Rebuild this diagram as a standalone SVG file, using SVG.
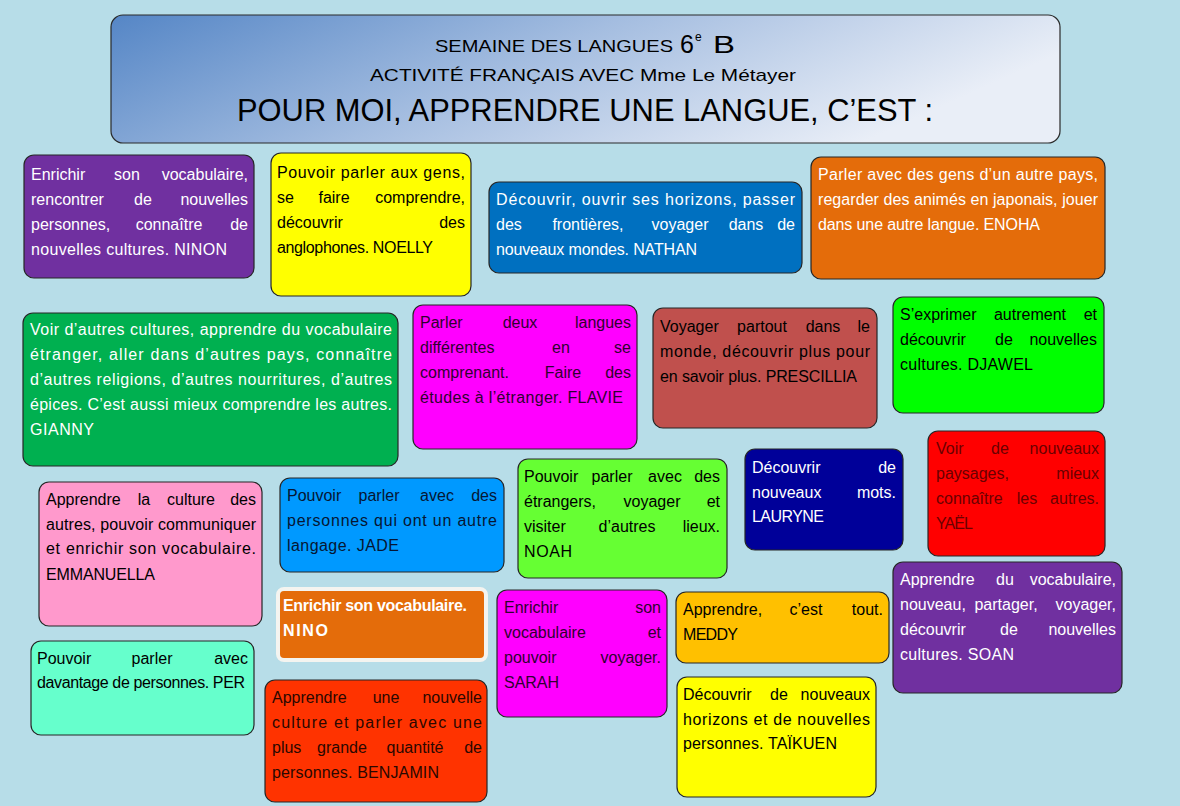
<svg xmlns="http://www.w3.org/2000/svg" width="1180" height="806" viewBox="0 0 1180 806">
<defs>
<linearGradient id="hg" x1="0" y1="0" x2="1" y2="0.3">
<stop offset="0" stop-color="#5586c6"/>
<stop offset="0.5" stop-color="#a4bde0"/>
<stop offset="1" stop-color="#e9eef7"/>
</linearGradient>
<style>
.t{font-family:"Liberation Sans",Arial,sans-serif;font-size:16px}
.h{font-family:"Liberation Sans",Arial,sans-serif;fill:#000}
.m{text-anchor:middle}
.e{text-anchor:end}
.b{stroke:#262626;stroke-width:1.2}
.w{fill:#fff}
.k{fill:#000}
.dm{fill:#300030}
.dr{fill:#6a0000}
.dn{fill:#061633}
.db{fill:#2a0800}
</style>
</defs>
<rect width="1180" height="806" fill="#b7dde8"/>

<g id="header">
<rect x="111" y="15" width="949" height="128" rx="12" fill="url(#hg)" stroke="#2a2a2a" stroke-width="1.2"/>
<text class="h" x="435" y="52" font-size="17" textLength="238" lengthAdjust="spacingAndGlyphs">SEMAINE DES LANGUES</text>
<text class="h" x="680" y="53" font-size="25">6</text>
<text class="h" x="695" y="41" font-size="12">e</text>
<text class="h" x="713" y="53" font-size="23" textLength="22" lengthAdjust="spacingAndGlyphs">B</text>
<text class="h" x="370" y="81" font-size="17" textLength="426" lengthAdjust="spacingAndGlyphs">ACTIVITÉ FRANÇAIS AVEC Mme Le Métayer</text>
<text class="h" x="237" y="121" font-size="32" textLength="696" lengthAdjust="spacingAndGlyphs">POUR MOI, APPRENDRE UNE LANGUE, C’EST :</text>
</g>

<g id="connectors"></g>

<g id="ninon">
<rect class="b" x="24" y="155" width="230" height="123" rx="10" fill="#7030a0"/>
<text class="t w"><tspan x="31" y="180">Enrichir</tspan><tspan class="m" x="127" y="180">son</tspan><tspan class="e" x="248" y="180">vocabulaire,</tspan></text>
<text class="t w"><tspan x="31" y="205">rencontrer</tspan><tspan class="m" x="143" y="205">de</tspan><tspan class="e" x="248" y="205">nouvelles</tspan></text>
<text class="t w"><tspan x="31" y="230">personnes,</tspan><tspan class="m" x="169" y="230">connaître</tspan><tspan class="e" x="248" y="230">de</tspan></text>
<text class="t w" x="31" y="255" textLength="196" lengthAdjust="spacing">nouvelles cultures. NINON</text>
</g>

<g id="noelly">
<rect class="b" x="271" y="153" width="200" height="143" rx="10" fill="#ffff00"/>
<text class="t k" x="277" y="178" textLength="188" lengthAdjust="spacing">Pouvoir parler aux gens,</text>
<text class="t k"><tspan x="277" y="203">se</tspan><tspan class="m" x="334" y="203">faire</tspan><tspan class="e" x="465" y="203">comprendre,</tspan></text>
<text class="t k"><tspan x="277" y="228">découvrir</tspan><tspan class="e" x="465" y="228">des</tspan></text>
<text class="t k" x="277" y="253" textLength="156" lengthAdjust="spacing">anglophones. NOELLY</text>
</g>

<g id="nathan">
<rect class="b" x="489" y="182" width="313" height="91" rx="10" fill="#0070c0"/>
<text class="t w" x="496" y="205" textLength="299" lengthAdjust="spacing">Découvrir, ouvrir ses horizons, passer</text>
<text class="t w"><tspan x="496" y="230">des</tspan><tspan class="m" x="588" y="230">frontières,</tspan><tspan class="m" x="680" y="230">voyager</tspan><tspan class="m" x="746" y="230">dans</tspan><tspan class="e" x="795" y="230">de</tspan></text>
<text class="t w" x="496" y="255" textLength="201" lengthAdjust="spacing">nouveaux mondes. NATHAN</text>
</g>

<g id="enoha">
<rect class="b" x="811" y="157" width="294" height="122" rx="10" fill="#e46c0a"/>
<text class="t w" x="818" y="180" textLength="280" lengthAdjust="spacing">Parler avec des gens d’un autre pays,</text>
<text class="t w" x="818" y="205" textLength="280" lengthAdjust="spacing">regarder des animés en japonais, jouer</text>
<text class="t w" x="818" y="230" textLength="222" lengthAdjust="spacing">dans une autre langue. ENOHA</text>
</g>

<g id="gianny">
<rect class="b" x="23" y="313" width="375" height="153" rx="10" fill="#00b050"/>
<text class="t w" x="30" y="335" textLength="362" lengthAdjust="spacing">Voir d’autres cultures, apprendre du vocabulaire</text>
<text class="t w" x="30" y="360" textLength="362" lengthAdjust="spacing">étranger, aller dans d’autres pays, connaître</text>
<text class="t w" x="30" y="385" textLength="362" lengthAdjust="spacing">d’autres religions, d’autres nourritures, d’autres</text>
<text class="t w" x="30" y="410" textLength="362" lengthAdjust="spacing">épices. C’est aussi mieux comprendre les autres.</text>
<text class="t w" x="30" y="435" textLength="64" lengthAdjust="spacing">GIANNY</text>
</g>

<g id="flavie">
<rect class="b" x="413" y="305" width="224" height="144" rx="10" fill="#ff00ff"/>
<text class="t dm"><tspan x="420" y="328">Parler</tspan><tspan class="m" x="520" y="328">deux</tspan><tspan class="e" x="631" y="328">langues</tspan></text>
<text class="t dm"><tspan x="420" y="353">différentes</tspan><tspan class="m" x="561" y="353">en</tspan><tspan class="e" x="631" y="353">se</tspan></text>
<text class="t dm"><tspan x="420" y="378">comprenant.</tspan><tspan class="m" x="563" y="378">Faire</tspan><tspan class="e" x="631" y="378">des</tspan></text>
<text class="t dm" x="420" y="403" textLength="203" lengthAdjust="spacing">études à l’étranger. FLAVIE</text>
</g>

<g id="prescillia">
<rect class="b" x="653" y="308" width="224" height="120" rx="10" fill="#c0504d"/>
<text class="t k"><tspan x="660" y="332">Voyager</tspan><tspan class="m" x="762" y="332">partout</tspan><tspan class="m" x="823" y="332">dans</tspan><tspan class="e" x="870" y="332">le</tspan></text>
<text class="t k" x="660" y="357" textLength="210" lengthAdjust="spacing">monde, découvrir plus pour</text>
<text class="t k" x="660" y="382" textLength="197" lengthAdjust="spacing">en savoir plus. PRESCILLIA</text>
</g>

<g id="djawel">
<rect class="b" x="893" y="297" width="211" height="116" rx="10" fill="#00ff00"/>
<text class="t k"><tspan x="900" y="320">S’exprimer</tspan><tspan class="m" x="1030" y="320">autrement</tspan><tspan class="e" x="1097" y="320">et</tspan></text>
<text class="t k"><tspan x="900" y="345">découvrir</tspan><tspan class="m" x="1004" y="345">de</tspan><tspan class="e" x="1097" y="345">nouvelles</tspan></text>
<text class="t k" x="900" y="370" textLength="133" lengthAdjust="spacing">cultures. DJAWEL</text>
</g>

<g id="emmanuella">
<rect class="b" x="39" y="482" width="223" height="144" rx="10" fill="#ff99cc"/>
<text class="t k"><tspan x="46" y="505">Apprendre</tspan><tspan class="m" x="144" y="505">la</tspan><tspan class="m" x="191" y="505">culture</tspan><tspan class="e" x="256" y="505">des</tspan></text>
<text class="t k" x="46" y="530" textLength="210" lengthAdjust="spacing">autres, pouvoir communiquer</text>
<text class="t k" x="46" y="554" textLength="210" lengthAdjust="spacing">et enrichir son vocabulaire.</text>
<text class="t k" x="46" y="580" textLength="109" lengthAdjust="spacing">EMMANUELLA</text>
</g>

<g id="jade">
<rect class="b" x="280" y="478" width="224" height="94" rx="10" fill="#0099ff"/>
<text class="t dn"><tspan x="287" y="501">Pouvoir</tspan><tspan class="m" x="379" y="501">parler</tspan><tspan class="m" x="437" y="501">avec</tspan><tspan class="e" x="497" y="501">des</tspan></text>
<text class="t dn" x="287" y="526" textLength="210" lengthAdjust="spacing">personnes qui ont un autre</text>
<text class="t dn" x="287" y="551" textLength="112" lengthAdjust="spacing">langage.  JADE</text>
</g>

<g id="noah">
<rect class="b" x="518" y="459" width="209" height="119" rx="10" fill="#66ff33"/>
<text class="t k"><tspan x="524" y="482">Pouvoir</tspan><tspan class="m" x="612" y="482">parler</tspan><tspan class="m" x="665" y="482">avec</tspan><tspan class="e" x="720" y="482">des</tspan></text>
<text class="t k"><tspan x="524" y="507">étrangers,</tspan><tspan class="m" x="652" y="507">voyager</tspan><tspan class="e" x="720" y="507">et</tspan></text>
<text class="t k"><tspan x="524" y="532">visiter</tspan><tspan class="m" x="627" y="532">d’autres</tspan><tspan class="e" x="720" y="532">lieux.</tspan></text>
<text class="t k" x="524" y="557" textLength="48" lengthAdjust="spacing">NOAH</text>
</g>

<g id="lauryne">
<rect class="b" x="745" y="449" width="158" height="101" rx="10" fill="#000099"/>
<text class="t w"><tspan x="752" y="473">Découvrir</tspan><tspan class="e" x="896" y="473">de</tspan></text>
<text class="t w"><tspan x="752" y="498">nouveaux</tspan><tspan class="e" x="896" y="498">mots.</tspan></text>
<text class="t w" x="752" y="522" textLength="72" lengthAdjust="spacing">LAURYNE</text>
</g>

<g id="yael">
<rect class="b" x="928" y="431" width="177" height="125" rx="10" fill="#ff0000"/>
<text class="t dr"><tspan x="936" y="454">Voir</tspan><tspan class="m" x="1000" y="454">de</tspan><tspan class="e" x="1099" y="454">nouveaux</tspan></text>
<text class="t dr"><tspan x="936" y="479">paysages,</tspan><tspan class="e" x="1099" y="479">mieux</tspan></text>
<text class="t dr"><tspan x="936" y="504">connaître</tspan><tspan class="m" x="1027" y="504">les</tspan><tspan class="e" x="1099" y="504">autres.</tspan></text>
<text class="t dr" x="936" y="529" textLength="37" lengthAdjust="spacing">YAËL</text>
</g>

<g id="nino">
<rect x="278" y="589" width="208" height="71" rx="6" fill="#e46c0a" stroke="#f4f4f0" stroke-width="4"/>
<text class="t w" font-weight="bold" x="283" y="611" textLength="184" lengthAdjust="spacing">Enrichir son vocabulaire.</text>
<text class="t w" font-weight="bold" x="283" y="636" textLength="45" lengthAdjust="spacing">NINO</text>
</g>

<g id="per">
<rect class="b" x="31" y="641" width="223" height="94" rx="10" fill="#66ffcc"/>
<text class="t k"><tspan x="37" y="664">Pouvoir</tspan><tspan class="m" x="152" y="664">parler</tspan><tspan class="e" x="248" y="664">avec</tspan></text>
<text class="t k" x="37" y="688" textLength="208" lengthAdjust="spacing">davantage de personnes. PER</text>
</g>

<g id="benjamin">
<rect class="b" x="265" y="680" width="222" height="122" rx="10" fill="#ff3300"/>
<text class="t db"><tspan x="272" y="703">Apprendre</tspan><tspan class="m" x="386" y="703">une</tspan><tspan class="e" x="482" y="703">nouvelle</tspan></text>
<text class="t db" x="272" y="728" textLength="210" lengthAdjust="spacing">culture et parler avec une</text>
<text class="t db"><tspan x="272" y="753">plus</tspan><tspan class="m" x="342" y="753">grande</tspan><tspan class="m" x="415" y="753">quantité</tspan><tspan class="e" x="482" y="753">de</tspan></text>
<text class="t db" x="272" y="778" textLength="167" lengthAdjust="spacing">personnes. BENJAMIN</text>
</g>

<g id="sarah">
<rect class="b" x="497" y="590" width="170" height="127" rx="10" fill="#ff00ff"/>
<text class="t dm"><tspan x="504" y="613">Enrichir</tspan><tspan class="e" x="661" y="613">son</tspan></text>
<text class="t dm"><tspan x="504" y="638">vocabulaire</tspan><tspan class="e" x="661" y="638">et</tspan></text>
<text class="t dm"><tspan x="504" y="663">pouvoir</tspan><tspan class="e" x="661" y="663">voyager.</tspan></text>
<text class="t dm" x="504" y="688" textLength="55" lengthAdjust="spacing">SARAH</text>
</g>

<g id="meddy">
<rect class="b" x="676" y="592" width="213" height="71" rx="10" fill="#ffc000"/>
<text class="t k"><tspan x="683" y="615">Apprendre,</tspan><tspan class="m" x="806" y="615">c’est</tspan><tspan class="e" x="883" y="615">tout.</tspan></text>
<text class="t k" x="683" y="640" textLength="55" lengthAdjust="spacing">MEDDY</text>
</g>

<g id="taikuen">
<rect class="b" x="677" y="677" width="199" height="120" rx="10" fill="#ffff00"/>
<text class="t k"><tspan x="683" y="700">Découvrir</tspan><tspan class="m" x="779" y="700">de</tspan><tspan class="e" x="870" y="700">nouveaux</tspan></text>
<text class="t k" x="683" y="725" textLength="187" lengthAdjust="spacing">horizons et de nouvelles</text>
<text class="t k" x="683" y="749" textLength="154" lengthAdjust="spacing">personnes. TAÏKUEN</text>
</g>

<g id="soan">
<rect class="b" x="893" y="562" width="229" height="131" rx="10" fill="#7030a0"/>
<text class="t w"><tspan x="900" y="585">Apprendre</tspan><tspan class="m" x="1005" y="585">du</tspan><tspan class="e" x="1116" y="585">vocabulaire,</tspan></text>
<text class="t w"><tspan x="900" y="610">nouveau,</tspan><tspan class="m" x="1006" y="610">partager,</tspan><tspan class="e" x="1116" y="610">voyager,</tspan></text>
<text class="t w"><tspan x="900" y="635">découvrir</tspan><tspan class="m" x="1009" y="635">de</tspan><tspan class="e" x="1116" y="635">nouvelles</tspan></text>
<text class="t w" x="900" y="660" textLength="114" lengthAdjust="spacing">cultures. SOAN</text>
</g>
</svg>
